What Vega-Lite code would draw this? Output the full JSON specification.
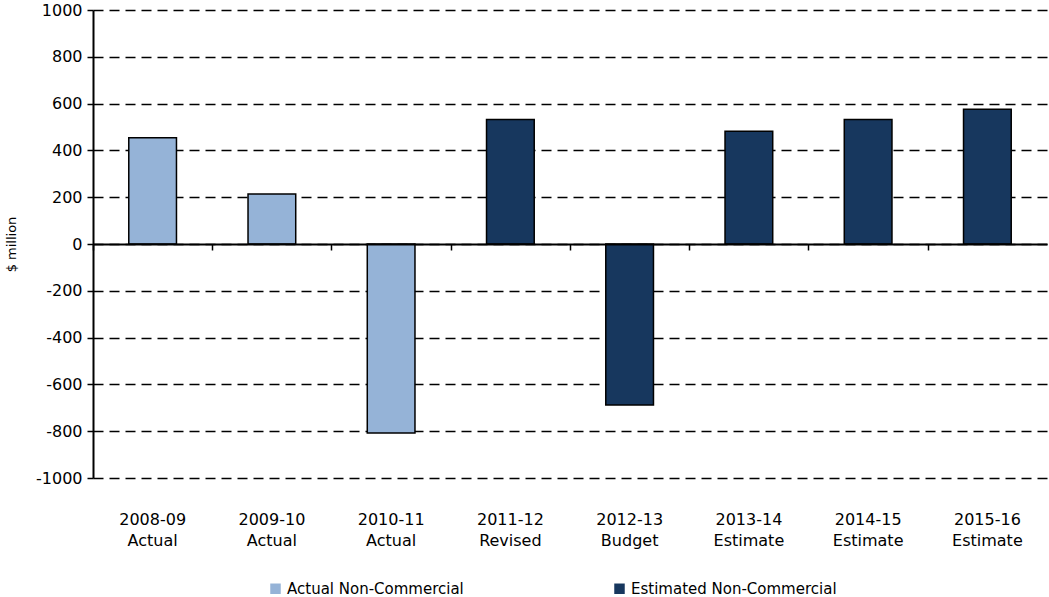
{
  "$schema": "https://vega.github.io/schema/vega-lite/v6.json",
  "width": 954,
  "height": 468,
  "autosize": "none",
  "padding": {"left": 93, "top": 10, "right": 2, "bottom": 119},
  "background": "white",
  "config": {
    "view": {"stroke": null},
    "font": "DejaVu Sans",
    "axis": {"labelFont": "DejaVu Sans", "titleFont": "DejaVu Sans", "labelColor": "black", "titleColor": "black"},
    "legend": {"labelFont": "DejaVu Sans", "labelColor": "black"}
  },
  "data": {
    "values": [
      {"period": "2008-09 Actual", "value": 454, "series": "Actual Non-Commercial"},
      {"period": "2009-10 Actual", "value": 214, "series": "Actual Non-Commercial"},
      {"period": "2010-11 Actual", "value": -808, "series": "Actual Non-Commercial"},
      {"period": "2011-12 Revised", "value": 532, "series": "Estimated Non-Commercial"},
      {"period": "2012-13 Budget", "value": -688, "series": "Estimated Non-Commercial"},
      {"period": "2013-14 Estimate", "value": 482, "series": "Estimated Non-Commercial"},
      {"period": "2014-15 Estimate", "value": 532, "series": "Estimated Non-Commercial"},
      {"period": "2015-16 Estimate", "value": 576, "series": "Estimated Non-Commercial"}
    ]
  },
  "layer": [
    {
      "mark": {"type": "bar", "stroke": "black", "strokeWidth": 1.5},
      "encoding": {
        "x": {
          "field": "period", "type": "nominal", "sort": null,
          "scale": {"paddingInner": 0.6, "paddingOuter": 0.3},
          "axis": {
            "title": null, "domain": false, "ticks": false, "grid": false,
            "labelAngle": 0, "labelFontSize": 16, "labelPadding": 33,
            "labelLineHeight": 21, "labelExpr": "split(datum.label, ' ')"
          }
        },
        "y": {
          "field": "value", "type": "quantitative",
          "scale": {"domain": [-1000, 1000], "nice": false, "zero": false},
          "axis": {
            "title": "$ million", "titleFontSize": 13, "titleFontWeight": "normal", "titlePadding": 17,
            "values": [-1000, -800, -600, -400, -200, 0, 200, 400, 600, 800, 1000],
            "labelExpr": "'' + datum.value",
            "labelFontSize": 16, "labelPadding": 5, "tickSize": 6, "tickColor": "black", "tickWidth": 1.5,
            "domainColor": "black", "domainWidth": 2,
            "grid": true, "gridColor": "black", "gridWidth": 1.5, "gridDash": [10, 6], "gridOpacity": 1
          }
        },
        "color": {
          "field": "series", "type": "nominal",
          "scale": {"domain": ["Actual Non-Commercial", "Estimated Non-Commercial"], "range": ["#95B3D7", "#17375E"]},
          "legend": {
            "title": null, "orient": "none", "legendX": 175, "legendY": 571,
            "direction": "horizontal", "columns": 2, "columnPadding": 148,
            "symbolType": "square", "symbolSize": 110, "symbolStrokeWidth": 0, "symbolOpacity": 1,
            "labelFontSize": 15, "labelOffset": 4, "labelLimit": 400
          }
        }
      }
    },
    {
      "mark": {"type": "point", "opacity": 0},
      "encoding": {
        "x": {
          "field": "period", "type": "nominal", "sort": null,
          "axis": {
            "orient": "bottom",
            "title": null, "labels": false, "grid": false, "domain": true, "ticks": true,
            "domainColor": "black", "domainWidth": 2, "tickColor": "black", "tickWidth": 1.5, "tickOpacity": 1,
            "tickSize": 6, "bandPosition": 0, "tickOffset": -35.8, "offset": -234, "zindex": 2
          }
        },
        "y": {"datum": 0, "type": "quantitative"}
      }
    }
  ],
  "resolve": {"axis": {"x": "independent"}}
}
